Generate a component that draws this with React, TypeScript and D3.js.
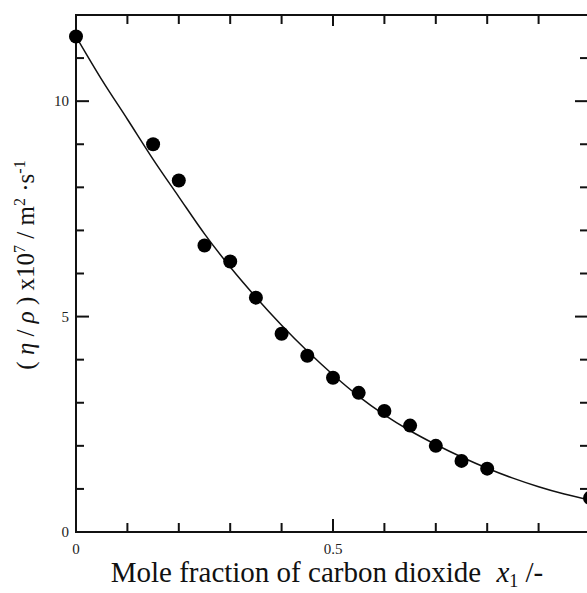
import React, { useEffect, useRef } from "react";
import * as d3 from "d3";

// measured points
const moleFraction = [0, 0.15, 0.2, 0.25, 0.3, 0.35, 0.4, 0.45, 0.5, 0.55, 0.6, 0.65, 0.7, 0.75, 0.8, 1.0];
const kinVisc = [11.5, 9.0, 8.16, 6.65, 6.28, 5.44, 4.6, 4.09, 3.58, 3.23, 2.81, 2.47, 2.0, 1.65, 1.47, 0.79];

// correlation curve
const curveX = [0, 0.05, 0.1, 0.15, 0.2, 0.25, 0.3, 0.35, 0.4, 0.45, 0.5, 0.55, 0.6, 0.65, 0.7, 0.75, 0.8, 0.85, 0.9, 0.95, 1.0];
const curveY = [11.5, 10.5, 9.58, 8.65, 7.78, 6.92, 6.15, 5.45, 4.8, 4.2, 3.65, 3.15, 2.72, 2.35, 2.03, 1.74, 1.48, 1.25, 1.05, 0.88, 0.74];

const xTicks = [0, 0.1, 0.2, 0.3, 0.4, 0.5, 0.6, 0.7, 0.8, 0.9, 1.0];
const xTickLabels = ["0", "0.5"];
const yTicks = [0, 1, 2, 3, 4, 5, 6, 7, 8, 9, 10, 11, 12];
const yTickLabels = ["0", "5", "10"];

const W = 587;
const H = 593;

const App: React.FC = () => {
  const ref = useRef<SVGSVGElement | null>(null);

  useEffect(() => {
    if (!ref.current) return;
    const svg = d3.select(ref.current);
    svg.selectAll("*").remove();

    const left = 76, right = 590, top = 15, bottom = 532;
    const x = d3.scaleLinear().domain([0, 1]).range([left, right]);
    const y = d3.scaleLinear().domain([0, 12]).range([bottom, top]);
    const font = "'Liberation Serif', 'Times New Roman', serif";

    svg.append("rect").attr("width", W).attr("height", H).attr("fill", "#fff");

    // frame
    svg.append("rect")
      .attr("x", left).attr("y", top)
      .attr("width", right - left).attr("height", bottom - top)
      .attr("fill", "none").attr("stroke", "#111").attr("stroke-width", 2);

    const isMajorX = (d: number) => Math.abs(d * 2 - Math.round(d * 2)) < 1e-6;
    const isMajorY = (d: number) => d % 5 === 0;

    // x ticks bottom and top
    xTicks.forEach((d) => {
      const len = isMajorX(d) ? 13 : 9;
      svg.append("line")
        .attr("x1", x(d)).attr("x2", x(d))
        .attr("y1", bottom).attr("y2", bottom - len)
        .attr("stroke", "#111").attr("stroke-width", 2);
      svg.append("line")
        .attr("x1", x(d)).attr("x2", x(d))
        .attr("y1", top).attr("y2", top + (isMajorX(d) ? 11 : 9))
        .attr("stroke", "#111").attr("stroke-width", 2);
    });

    // y ticks left and right
    yTicks.forEach((d) => {
      const len = isMajorY(d) ? 13 : 8;
      svg.append("line")
        .attr("x1", left).attr("x2", left + len)
        .attr("y1", y(d)).attr("y2", y(d))
        .attr("stroke", "#111").attr("stroke-width", 2);
      svg.append("line")
        .attr("x1", right).attr("x2", right - (isMajorY(d) ? 15 : 10))
        .attr("y1", y(d)).attr("y2", y(d))
        .attr("stroke", "#111").attr("stroke-width", 2);
    });

    // tick labels
    xTickLabels.forEach((t) => {
      svg.append("text")
        .attr("x", x(+t)).attr("y", bottom + 22)
        .attr("text-anchor", "middle")
        .style("font-family", font).style("font-size", "15px")
        .attr("fill", "#222")
        .text(t);
    });
    yTickLabels.forEach((t) => {
      svg.append("text")
        .attr("x", left - 7).attr("y", y(+t) + 5)
        .attr("text-anchor", "end")
        .style("font-family", font).style("font-size", "15px")
        .attr("fill", "#222")
        .text(t);
    });

    // curve
    const line = d3.line<number>()
      .x((_, i) => x(curveX[i]))
      .y((d) => y(d))
      .curve(d3.curveMonotoneX);
    svg.append("path")
      .datum(curveY)
      .attr("d", line)
      .attr("fill", "none").attr("stroke", "#111").attr("stroke-width", 1.5);

    // points
    svg.append("g")
      .selectAll("circle")
      .data(kinVisc)
      .join("circle")
      .attr("cx", (_, i) => x(moleFraction[i]))
      .attr("cy", (d) => y(d))
      .attr("r", 7)
      .attr("fill", "#000");

    // x axis title
    const xt = svg.append("text")
      .attr("x", 327).attr("y", 582)
      .attr("text-anchor", "middle")
      .style("font-family", font).style("font-size", "29px")
      .attr("fill", "#111");
    xt.append("tspan").text("Mole fraction of carbon dioxide ");
    xt.append("tspan").attr("dx", 8).style("font-style", "italic").text("x");
    xt.append("tspan").attr("dy", 5).style("font-size", "18px").text("1");
    xt.append("tspan").attr("dy", -5).text(" /-");

    // y axis title
    const yt = svg.append("text")
      .attr("transform", `translate(34,265) rotate(-90)`)
      .attr("text-anchor", "middle")
      .style("font-family", font).style("font-size", "25px")
      .attr("fill", "#111");
    yt.append("tspan").text("( ");
    yt.append("tspan").style("font-style", "italic").text("η");
    yt.append("tspan").text(" / ");
    yt.append("tspan").style("font-style", "italic").text("ρ");
    yt.append("tspan").text(" ) x10");
    yt.append("tspan").attr("dy", -9).style("font-size", "16px").text("7");
    yt.append("tspan").attr("dy", 9).text(" / m");
    yt.append("tspan").attr("dy", -9).style("font-size", "16px").text("2");
    yt.append("tspan").attr("dy", 9).text(" ·s");
    yt.append("tspan").attr("dy", -9).style("font-size", "16px").text("-1");
  }, []);

  return (
    <svg
      ref={ref}
      width={W}
      height={H}
      style={{ position: "absolute", left: 0, top: 0 }}
    />
  );
};

export default App;
